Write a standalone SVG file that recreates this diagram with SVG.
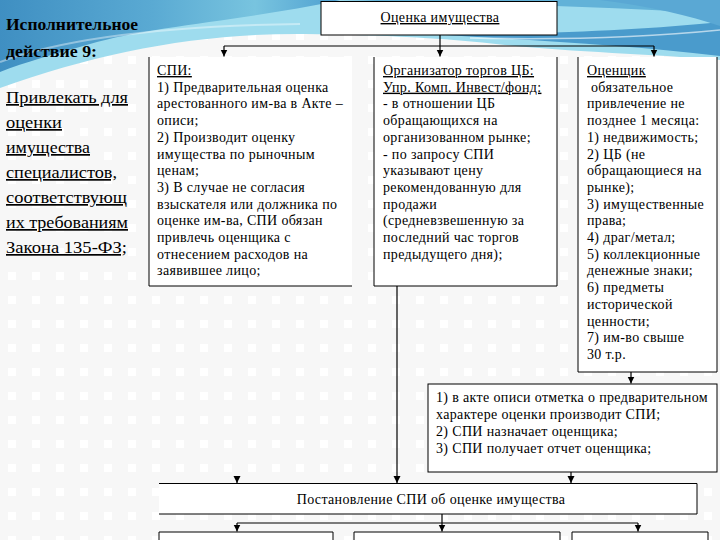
<svg xmlns="http://www.w3.org/2000/svg" width="720" height="540" viewBox="0 0 720 540">
<defs>
<style>
.t{font-family:"Liberation Serif","Times New Roman",serif;font-size:14px;letter-spacing:0.35px;fill:#000}
.u{text-decoration:underline}
.L{font-family:"Liberation Serif","Times New Roman",serif;font-size:17px;fill:#000}
.b{font-weight:bold}
.box{fill:#fff;stroke:none}
.ln{fill:none;stroke:#000;stroke-width:1}
.c{fill:none;stroke:#000;stroke-width:1.2}
</style>
<marker id="ah" markerUnits="userSpaceOnUse" markerWidth="8" markerHeight="8" refX="7" refY="3.5" orient="auto">
<path d="M0,0 L7,3.5 L0,7 Z" fill="#000"/>
</marker>
<linearGradient id="blue" x1="0" y1="0" x2="1" y2="0">
<stop offset="0" stop-color="#3f8fc2"/>
<stop offset="0.45" stop-color="#5aaad3"/>
<stop offset="0.75" stop-color="#78c4df"/>
<stop offset="1" stop-color="#4e9fd0"/>
</linearGradient>
<pattern id="dots" width="24" height="24" patternUnits="userSpaceOnUse">
<rect width="24" height="24" fill="#f7f7f7"/>
<rect x="8" y="8" width="8" height="8" fill="#ffffff"/>
</pattern>
</defs>
<g id="background">
<rect width="720" height="540" fill="url(#dots)"/>
<path d="M0,0 H720 V60 C650,54 570,52 505,45 C445,38 385,35 305,34 C200,33 100,52 0,88 Z" fill="#9edcee"/>
<path d="M0,0 H340 C250,20 150,26 90,44 C55,54 25,62 0,72 Z" fill="url(#blue)"/>
<path d="M0,0 H720 V14 C600,6 480,4 340,0 Z" fill="#62b2d8"/>
<path d="M430,34 C520,40 620,44 720,56 V22 C640,30 560,34 430,34 Z" fill="#4a9bcc"/>
<path d="M600,0 H720 V26 C690,16 650,6 600,0 Z" fill="#5aa8d4"/>
<path d="M470,38 C560,40 640,38 720,30" fill="none" stroke="#ffffff" stroke-opacity="0.6" stroke-width="1.5"/>
<path d="M0,62 C60,40 160,26 300,24" fill="none" stroke="#ffffff" stroke-opacity="0.4" stroke-width="2"/>
</g>
<g id="title">
<text class="L b" x="6" y="30" textLength="132" lengthAdjust="spacingAndGlyphs">Исполнительное</text>
<text class="L b" x="6" y="57" textLength="91" lengthAdjust="spacingAndGlyphs">действие 9:</text>
<text class="L u" x="6" y="103" textLength="122" lengthAdjust="spacingAndGlyphs">Привлекать для</text>
<text class="L u" x="6" y="128" textLength="56" lengthAdjust="spacingAndGlyphs">оценки</text>
<text class="L u" x="6" y="153" textLength="84" lengthAdjust="spacingAndGlyphs">имущества</text>
<text class="L u" x="6" y="178" textLength="111" lengthAdjust="spacingAndGlyphs">специалистов,</text>
<text class="L u" x="6" y="203" textLength="121" lengthAdjust="spacingAndGlyphs">соответствующ</text>
<text class="L u" x="6" y="228" textLength="122" lengthAdjust="spacingAndGlyphs">их требованиям</text>
<text class="L u" x="6" y="253" textLength="121" lengthAdjust="spacingAndGlyphs">Закона 135-ФЗ;</text>
</g>
<g id="connectors">
<path class="c" d="M440,35 V46"/>
<path class="c" d="M224,46 H654"/>
<path class="c" d="M224,46 V56.5" marker-end="url(#ah)"/>
<path class="c" d="M440,46 V56.5" marker-end="url(#ah)"/>
<path class="c" d="M654,46 V56.5" marker-end="url(#ah)"/>
<path class="c" d="M631,372 V383.5" marker-end="url(#ah)"/>
<path class="c" d="M397,286 V483" marker-end="url(#ah)"/>
<path class="c" d="M571,472 V483" marker-end="url(#ah)"/>
<path class="c" d="M237,477 V483" marker-end="url(#ah)"/>
<path class="c" d="M442,514 V523"/>
<path class="c" d="M237,523 H638"/>
<path class="c" d="M237,523 V531.5" marker-end="url(#ah)"/>
<path class="c" d="M442,523 V531.5" marker-end="url(#ah)"/>
<path class="c" d="M638,523 V531.5" marker-end="url(#ah)"/>
</g>
<g id="n-ocenka">
<rect class="box" x="321" y="1.5" width="236" height="33.5"/>
<rect class="ln" x="321" y="1.5" width="236" height="33.5"/>
<text class="t u" x="440" y="22" text-anchor="middle" font-size="15" letter-spacing="0.5">Оценка имущества</text>
</g>
<g id="n-spi">
<rect class="box" x="149" y="57" width="203" height="229"/>
<path class="ln" d="M149,57 V286 H352"/>
<text class="t u" x="157" y="75">СПИ:</text>
<text class="t" x="157" y="91.7">1) Предварительная оценка</text>
<text class="t" x="157" y="108.4">арестованного им-ва в Акте –</text>
<text class="t" x="157" y="125.1">описи;</text>
<text class="t" x="157" y="141.8">2) Производит оценку</text>
<text class="t" x="157" y="158.5">имущества по рыночным</text>
<text class="t" x="157" y="175.2">ценам;</text>
<text class="t" x="157" y="191.9">3) В случае не согласия</text>
<text class="t" x="157" y="208.6">взыскателя или должника по</text>
<text class="t" x="157" y="225.3">оценке им-ва, СПИ обязан</text>
<text class="t" x="157" y="242">привлечь оценщика с</text>
<text class="t" x="157" y="258.7">отнесением расходов на</text>
<text class="t" x="157" y="275.4">заявившее лицо;</text>
</g>
<g id="n-organizator">
<rect class="box" x="374" y="57" width="183" height="229"/>
<path class="ln" d="M374,57 V286 H557 V57"/>
<text class="t u" x="383" y="75">Организатор торгов ЦБ:</text>
<text class="t u" x="383" y="91.7">Упр. Комп. Инвест/фонд:</text>
<text class="t" x="383" y="108.4">- в отношении ЦБ</text>
<text class="t" x="383" y="125.1">обращающихся на</text>
<text class="t" x="383" y="141.8">организованном рынке;</text>
<text class="t" x="383" y="158.5">- по запросу СПИ</text>
<text class="t" x="383" y="175.2">указывают цену</text>
<text class="t" x="383" y="191.9">рекомендованную для</text>
<text class="t" x="383" y="208.6">продажи</text>
<text class="t" x="383" y="225.3">(средневзвешенную за</text>
<text class="t" x="383" y="242">последний час торгов</text>
<text class="t" x="383" y="258.7">предыдущего дня);</text>
</g>
<g id="n-ocenshik">
<rect class="box" x="578" y="57" width="139" height="315"/>
<path class="ln" d="M578,57 V372 H717 V57"/>
<text class="t u" x="587" y="75">Оценщик</text>
<text class="t" x="591" y="91.7">обязательное</text>
<text class="t" x="587" y="108.4">привлечение не</text>
<text class="t" x="587" y="125.1">позднее 1 месяца:</text>
<text class="t" x="587" y="141.8">1) недвижимость;</text>
<text class="t" x="587" y="158.5">2) ЦБ (не</text>
<text class="t" x="587" y="175.2">обращающиеся на</text>
<text class="t" x="587" y="191.9">рынке);</text>
<text class="t" x="587" y="208.6">3) имущественные</text>
<text class="t" x="587" y="225.3">права;</text>
<text class="t" x="587" y="242">4) драг/метал;</text>
<text class="t" x="587" y="258.7">5) коллекционные</text>
<text class="t" x="587" y="275.4">денежные знаки;</text>
<text class="t" x="587" y="292.1">6) предметы</text>
<text class="t" x="587" y="308.8">исторической</text>
<text class="t" x="587" y="325.5">ценности;</text>
<text class="t" x="587" y="342.2">7) им-во свыше</text>
<text class="t" x="587" y="358.9">30 т.р.</text>
</g>
<g id="n-akt">
<rect class="box" x="428" y="384" width="289" height="88"/>
<rect class="ln" x="428" y="384" width="289" height="88"/>
<text class="t" x="436" y="402">1) в акте описи отметка о предварительном</text>
<text class="t" x="436" y="419">характере оценки производит СПИ;</text>
<text class="t" x="436" y="436">2) СПИ назначает оценщика;</text>
<text class="t" x="436" y="453">3) СПИ получает отчет оценщика;</text>
</g>
<g id="n-postanovlenie">
<rect class="box" x="159" y="483.5" width="538" height="30.5"/>
<path class="ln" d="M159,483.5 H697 V514 H159"/>
<text class="t" x="431" y="504" text-anchor="middle" font-size="14" letter-spacing="0.5">Постановление СПИ об оценке имущества</text>
</g>
<g id="n-bottom1">
<rect class="box" x="159" y="532" width="174" height="20"/>
<path class="ln" d="M159,545 V532 H333 V545"/>
</g>
<g id="n-bottom2">
<rect class="box" x="354" y="532" width="206" height="20"/>
<path class="ln" d="M354,545 V532 H560 V545"/>
</g>
<g id="n-bottom3">
<rect class="box" x="572" y="532" width="136" height="20"/>
<path class="ln" d="M572,545 V532 H708 V545"/>
</g>
</svg>
